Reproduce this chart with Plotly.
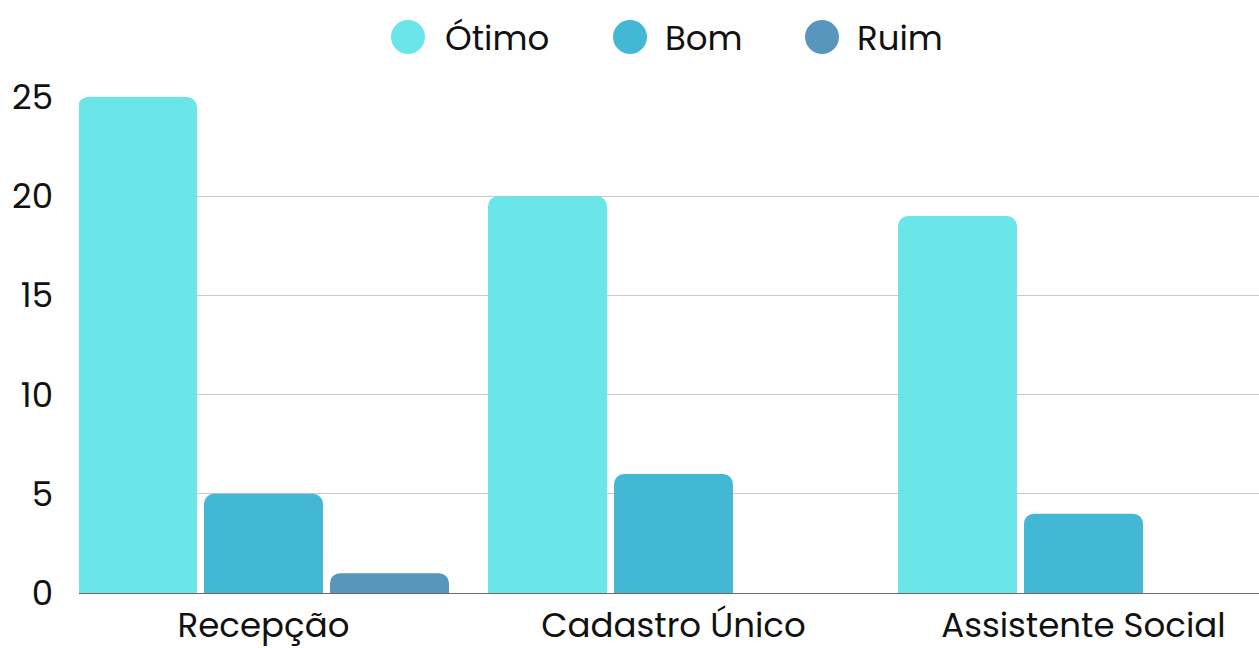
import plotly.graph_objects as go

categories = ["Recepção", "Cadastro Único", "Assistente Social"]
series_names = ["Ótimo", "Bom", "Ruim"]
otimo = [25, 20, 19]
bom = [5, 6, 4]
ruim = [1, 0, 0]
y_ticks = [0, 5, 10, 15, 20, 25]
colors = ["#6ae5e8", "#42b8d5", "#5996bd"]

FONT = "Poppins, Lato, 'Open Sans', sans-serif"
FS = 34

fig = go.Figure()
for name, vals, col in zip(series_names, [otimo, bom, ruim], colors):
    fig.add_trace(go.Bar(
        x=categories, y=vals, name=name,
        marker=dict(color=col, cornerradius=10, line=dict(width=0)),
        showlegend=False,
    ))

W, H = 1259, 648
L, R, T = 79, 0, 97
B = H - 593
pw, ph = W - L - R, H - T - B

CAT_PX = 410.0
x0 = -(263.5 - L) / CAT_PX
x1 = x0 + pw / CAT_PX

def px(x):
    return (x - L) / pw

def py(y):
    return (H - B - y) / ph

legend_items = [(408, 443), (630, 663), (822, 855)]
shapes = []
annotations = []
for (cx, tx), name, col in zip(legend_items, series_names, colors):
    shapes.append(dict(type="circle", xref="paper", yref="paper",
                       xsizemode="pixel", ysizemode="pixel",
                       xanchor=px(cx), yanchor=py(37),
                       x0=-17, x1=17, y0=-17, y1=17,
                       fillcolor=col, line=dict(width=0)))
    annotations.append(dict(text=name, xref="paper", yref="paper",
                            x=px(tx), y=py(38), xanchor="left", yanchor="middle",
                            showarrow=False, font=dict(size=FS, color="#111111", family=FONT)))

fig.update_layout(
    width=W, height=H,
    margin=dict(l=L, r=R, t=T, b=B, pad=0),
    paper_bgcolor="white", plot_bgcolor="white",
    barmode="group", bargap=0.078, bargroupgap=0.056,
    font=dict(family=FONT, size=FS, color="#111111"),
    shapes=shapes, annotations=annotations,
    showlegend=False,
)
fig.update_xaxes(range=[x0, x1], showline=True, linecolor="#6b6b6b", linewidth=1,
                 showgrid=False, ticks="", tickfont=dict(size=FS), fixedrange=True,
                 ticklabelstandoff=2, automargin=False)
fig.update_yaxes(range=[0, 25], tickvals=y_ticks, showgrid=True, gridcolor="#c8c8c8",
                 gridwidth=1, zeroline=False, showline=False, ticks="",
                 ticklabelstandoff=25, tickfont=dict(size=FS), automargin=False,
                 fixedrange=True)

fig.write_html(
    "out.html",
    config={"displayModeBar": False},
    post_script="document.body.style.margin='0';document.body.style.overflow='hidden';",
)
